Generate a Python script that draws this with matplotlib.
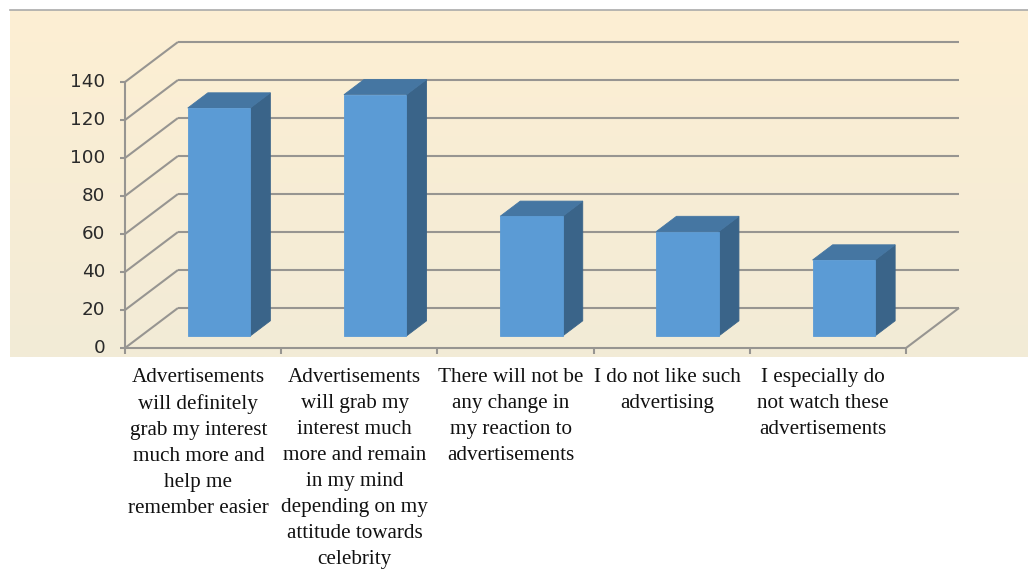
import numpy as np
import matplotlib
matplotlib.use("Agg")
import matplotlib.pyplot as plt
from matplotlib.patches import Polygon

# survey answers and number of respondents
categories = [
    "Advertisements\nwill definitely\ngrab my interest\nmuch more and\nhelp me\nremember easier",
    "Advertisements\nwill grab my\ninterest much\nmore and remain\nin my mind\ndepending on my\nattitude towards\ncelebrity",
    "There will not be\nany change in\nmy reaction to\nadvertisements",
    "I do not like such\nadvertising",
    "I especially do\nnot watch these\nadvertisements",
]
counts = [120, 127, 63, 55, 40]
yticks = [0, 20, 40, 60, 80, 100, 120, 140]

# pseudo-3D settings (in data units)
DX = 0.339      # full depth, x shift in categories
DY = 21.05      # full depth, y shift in value units
d0 = 0.30       # depth of bar front face
dd = 0.38       # bar depth
w = 0.40        # bar width

grid_c = "#979591"
front_c = "#5B9BD5"
side_c = "#3A6489"
top_c = "#4576A2"

fig = plt.figure(figsize=(10.28, 5.72), dpi=100)
fig.patch.set_facecolor("white")

# chart area background with a soft vertical gradient
bg = fig.add_axes([10 / 1028, 1 - 357 / 572, 1018 / 1028, 347 / 572], zorder=0)
top_rgb = np.array([253, 239, 211]) / 255
bot_rgb = np.array([242, 235, 215]) / 255
t = np.linspace(0, 1, 256)[:, None]
grad = (top_rgb * (1 - t) + bot_rgb * t)[:, None, :]
bg.imshow(grad, aspect="auto", extent=[0, 1, 0, 1])
bg.set_xticks([])
bg.set_yticks([])
for s in ["left", "right", "bottom"]:
    bg.spines[s].set_visible(False)
bg.spines["top"].set_color("#AAAAAA")
bg.spines["top"].set_linewidth(1.2)

ax = fig.add_axes([125 / 1028, 1 - 348 / 572, 781 / 1028, 266 / 572], zorder=1)
ax.set_xlim(0, len(counts))
ax.set_ylim(0, 140)
ax.axis("off")
ax.patch.set_alpha(0)

n = len(counts)
kw = dict(color=grid_c, lw=1.5, clip_on=False, solid_capstyle="butt")

# back wall gridlines and left wall diagonals
for v in yticks:
    ax.plot([DX, n + DX], [v + DY, v + DY], **kw)
    ax.plot([0, DX], [v, v + DY], **kw)
    ax.plot([-0.032, 0], [v, v], **kw)
    ax.text(-0.125, v, str(v), ha="right", va="center", fontsize=13.2,
            color="#2A2A2A", family="DejaVu Sans")

# front axis lines, floor edge and category ticks
ax.plot([0, 0], [0, 140], **kw)
ax.plot([0, n], [0, 0], **kw)
ax.plot([n, n + DX], [0, DY], **kw)
for i in range(n + 1):
    ax.plot([i, i], [0, -3.3], **kw)

# bars drawn as front, side and top faces
for i, v in enumerate(counts):
    x0 = i + 0.5 - w / 2 + d0 * DX
    y0 = d0 * DY
    ox, oy = dd * DX, dd * DY
    front = [(x0, y0), (x0 + w, y0), (x0 + w, y0 + v), (x0, y0 + v)]
    side = [(x0 + w, y0), (x0 + w + ox, y0 + oy),
            (x0 + w + ox, y0 + oy + v), (x0 + w, y0 + v)]
    top = [(x0, y0 + v), (x0 + w, y0 + v),
           (x0 + w + ox, y0 + v + oy), (x0 + ox, y0 + v + oy)]
    for pts, c in [(side, side_c), (top, top_c), (front, front_c)]:
        ax.add_patch(Polygon(pts, closed=True, facecolor=c, edgecolor=c,
                             lw=0.6, clip_on=False, zorder=3))

# category labels below the axis
for i, lab in enumerate(categories):
    ax.text(i + 0.47, -10.6, lab, ha="center", va="top", fontsize=15.2,
            family="Liberation Serif", linespacing=1.5, color="#111111")

fig.savefig("out.png", dpi=100)
